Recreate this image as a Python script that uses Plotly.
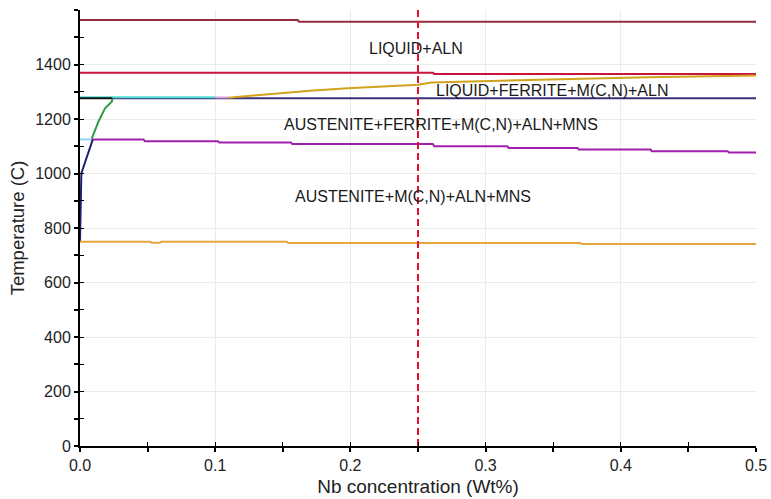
import plotly.graph_objects as go

# Phase boundary lines: Nb concentration (wt%) vs temperature (C)
liquidus_x = [0.0, 0.161, 0.162, 0.5]
liquidus_t = [1563, 1563, 1557, 1557]

aln_x = [0.0, 0.261, 0.262, 0.5]
aln_t = [1370, 1370, 1365, 1365]

mcn_x = [0.11, 0.133, 0.148, 0.17, 0.198, 0.222, 0.25, 0.26, 0.30, 0.363, 0.42, 0.5]
mcn_t = [1278, 1288, 1294, 1304, 1313, 1320, 1326, 1334, 1340, 1347, 1353, 1360]

ferrite_x = [0.024, 0.5]
ferrite_t = [1276, 1276]

solidus_x = [0.0, 0.024]
solidus_t = [1276, 1276]

cyan_x = [0.0, 0.1]
cyan_t = [1280, 1280]

lav_x = [0.1, 0.11]
lav_t = [1279, 1279]

green_x = [0.0087, 0.0136, 0.0185, 0.0235, 0.024]
green_t = [1128, 1190, 1239, 1263, 1274]

mns_x = [0.009, 0.047, 0.048, 0.102, 0.103, 0.156, 0.157, 0.261, 0.262, 0.316, 0.317,
         0.368, 0.369, 0.422, 0.423, 0.479, 0.48, 0.5]
mns_t = [1125, 1125, 1118, 1118, 1114, 1114, 1108, 1108, 1100, 1100, 1094, 1094, 1088,
         1088, 1082, 1082, 1077, 1077]

sky_x = [0.0, 0.009]
sky_t = [1125, 1125]

navy_x = [0.0, 0.0005, 0.001, 0.004, 0.0074, 0.0095]
navy_t = [750, 900, 1000, 1045, 1100, 1125]

a1_x = [0.0, 0.052, 0.053, 0.059, 0.06, 0.153, 0.154, 0.37, 0.371, 0.5]
a1_t = [750, 750, 746, 746, 750, 750, 745, 745, 741, 741]

nb_marker = 0.25
t_range = [0, 1600]

labels = ["LIQUID+ALN", "LIQUID+FERRITE+M(C,N)+ALN",
          "AUSTENITE+FERRITE+M(C,N)+ALN+MNS", "AUSTENITE+M(C,N)+ALN+MNS"]
label_x = [0.2485, 0.349, 0.2667, 0.2465]
label_t = [1460, 1305, 1180, 915]

x_ticks = [0.0, 0.1, 0.2, 0.3, 0.4, 0.5]
y_ticks = [0, 200, 400, 600, 800, 1000, 1200, 1400, 1600]
y_ticktext = ["0", "200", "400", "600", "800", "1000", "1200", "1400", ""]

FONT = "Liberation Sans, Arial, sans-serif"

series = [
    (liquidus_x, liquidus_t, "#962d3e"),
    (aln_x, aln_t, "#c8143c"),
    (ferrite_x, ferrite_t, "#3b2f78"),
    (cyan_x, cyan_t, "#4fdcd6"),
    (lav_x, lav_t, "#d9a6d9"),
    (mcn_x, mcn_t, "#d1a21c"),
    (solidus_x, solidus_t, "#111111"),
    (mns_x, mns_t, "#a21fae"),
    (sky_x, sky_t, "#8fd3f0"),
    (navy_x, navy_t, "#1d1f72"),
    (green_x, green_t, "#2f9a48"),
    (a1_x, a1_t, "#e8a53a"),
]

fig = go.Figure()
for xs, ts, col in series:
    fig.add_trace(go.Scatter(x=xs, y=ts, mode="lines",
                             line=dict(color=col, width=2), hoverinfo="skip"))

fig.add_trace(go.Scatter(x=[nb_marker, nb_marker], y=t_range, mode="lines",
                         line=dict(color="#e01030", width=2, dash="7px,4px"),
                         hoverinfo="skip"))

# invisible trace holding the overlay axes used for inward tick marks
fig.add_trace(go.Scatter(x=[0], y=[0], xaxis="x2", yaxis="y2", mode="markers",
                         marker=dict(opacity=0), hoverinfo="skip"))

for txt, lx, lt in zip(labels, label_x, label_t):
    fig.add_annotation(x=lx, y=lt, text=txt, showarrow=False,
                       font=dict(family=FONT, size=16, color="#1a1a1a"))

axis_common = dict(showline=True, linecolor="#000000", linewidth=2, automargin=False,
                   ticks="outside", ticklen=4, tickwidth=1.5, tickcolor="#000000",
                   gridcolor="#ebebeb", gridwidth=1, zeroline=False,
                   tickfont=dict(family=FONT, size=16, color="#222222"))

fig.update_layout(
    width=771, height=499,
    margin=dict(l=80, r=15, t=10, b=53),
    paper_bgcolor="white", plot_bgcolor="white",
    showlegend=False,
    xaxis=dict(range=[0, 0.5], tickvals=x_ticks, tickformat=".1f",
               minor=dict(dtick=0.05, ticks="outside", ticklen=4, tickcolor="#000000",
                          showgrid=False),
               title=dict(text="Nb concentration (Wt%)", standoff=6,
                          font=dict(family=FONT, size=19, color="#222222")),
               **axis_common),
    yaxis=dict(range=t_range, tickvals=y_ticks, ticktext=y_ticktext,
               minor=dict(dtick=100, ticks="outside", ticklen=4, tickcolor="#000000",
                          showgrid=False),
               title=dict(text="Temperature (C)", standoff=6,
                          font=dict(family=FONT, size=18.5, color="#222222")),
               **axis_common),
    xaxis2=dict(overlaying="x", anchor="y2", range=[0, 0.5], tickvals=x_ticks,
                showticklabels=False, showgrid=False, zeroline=False, automargin=False,
                side="bottom", ticks="inside", ticklen=4, tickcolor="#000000",
                minor=dict(dtick=0.05, ticks="inside", ticklen=4, tickcolor="#000000")),
    yaxis2=dict(overlaying="y", anchor="x2", range=t_range, tickvals=y_ticks,
                showticklabels=False, showgrid=False, zeroline=False, automargin=False,
                side="left", ticks="inside", ticklen=4, tickcolor="#000000",
                minor=dict(dtick=100, ticks="inside", ticklen=4, tickcolor="#000000")),
)

fig.write_html("out.html")
